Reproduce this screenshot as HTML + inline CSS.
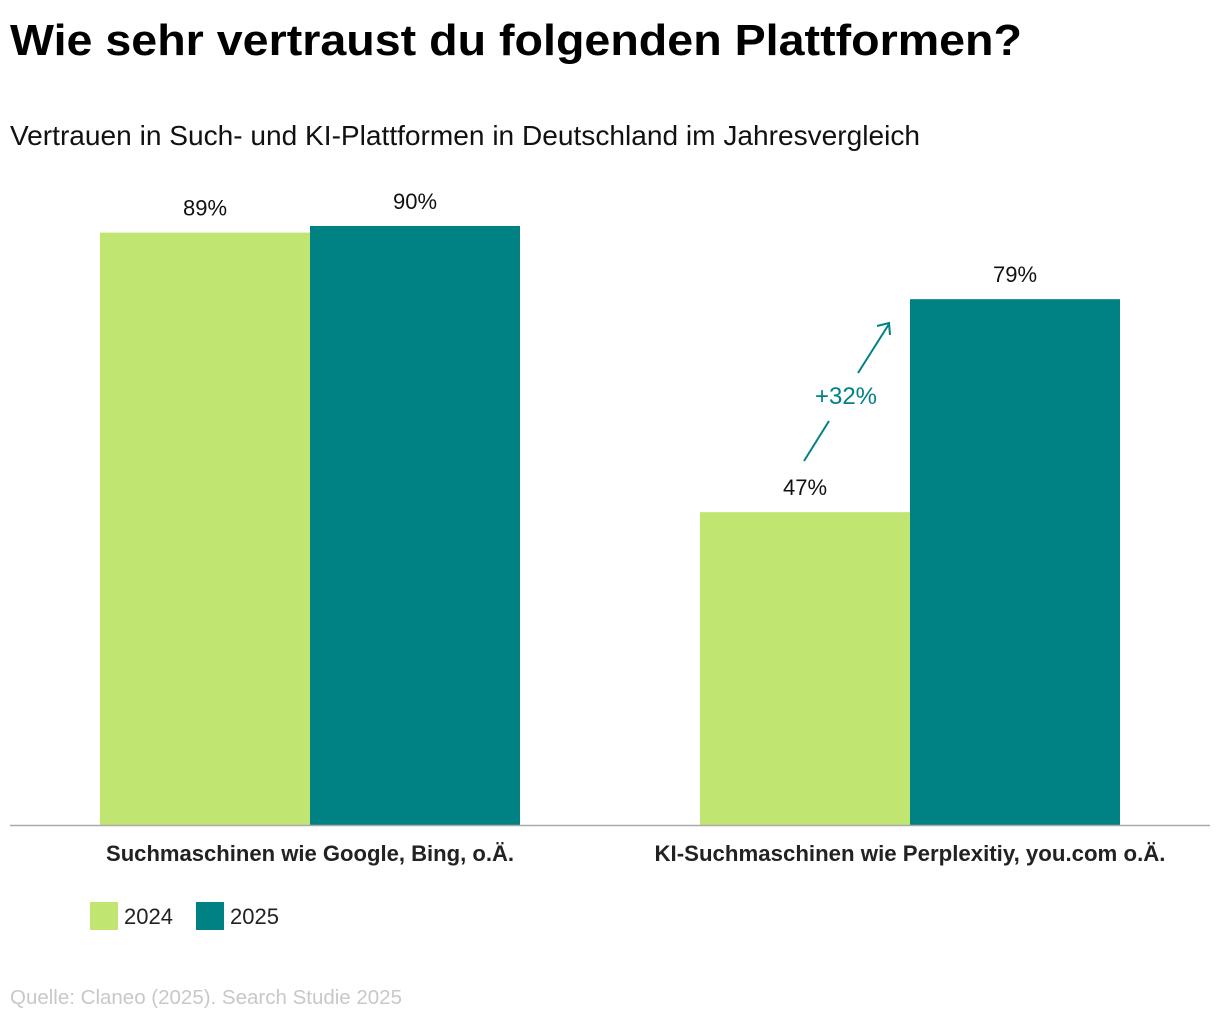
<!DOCTYPE html>
<html><head><meta charset="utf-8"><style>
body{margin:0;background:#fff}
svg{display:block;font-family:"Liberation Sans",sans-serif}
</style></head><body>
<svg id="chart" width="1220" height="1020">
<text x="10" y="55" font-size="44" font-weight="bold" textLength="1012" lengthAdjust="spacingAndGlyphs">Wie sehr vertraust du folgenden Plattformen?</text>
<text x="10" y="145" font-size="28" fill="#111" textLength="910" lengthAdjust="spacingAndGlyphs">Vertrauen in Such- und KI-Plattformen in Deutschland im Jahresvergleich</text>
<g id="bars"></g>
<line x1="10" y1="825.5" x2="1210" y2="825.5" stroke="#aaa" stroke-width="1.5"/>
<g>
<line x1="804" y1="461" x2="829" y2="421" stroke="#008285" stroke-width="2"/>
<line x1="858" y1="373" x2="889" y2="324" stroke="#008285" stroke-width="2"/>
<polyline points="877,326 889,323 890,335" fill="none" stroke="#008285" stroke-width="2"/>
<text x="846" y="404" font-size="24" fill="#008285" text-anchor="middle">+32%</text>
</g>
<g>
<rect x="90" y="902" width="28" height="28" fill="#c0e570"/>
<text x="124" y="924" font-size="22" fill="#222">2024</text>
<rect x="196" y="902" width="28" height="28" fill="#008285"/>
<text x="230" y="924" font-size="22" fill="#222">2025</text>
</g>
<text x="10" y="1004" font-size="20" fill="#c8c8c8" textLength="392" lengthAdjust="spacingAndGlyphs">Quelle: Claneo (2025). Search Studie 2025</text>
</svg>
<script>
const categories = ["Suchmaschinen wie Google, Bing, o.Ä.", "KI-Suchmaschinen wie Perplexitiy, you.com o.Ä."];
const series2024 = [89, 47];
const series2025 = [90, 79];
const valueLabels2024 = ["89%", "47%"];
const valueLabels2025 = ["90%", "79%"];
const catWidths = [408, 511];

const baseY = 825, scale = 6.656;
function y(v){ return baseY - v*scale; }
function groupCenter(i){ return 310 + i*600; }
const bw = 210;
const ns = "http://www.w3.org/2000/svg";
const g = document.getElementById('bars');
function mk(tag, attrs){ const e=document.createElementNS(ns,tag); for(const k in attrs) e.setAttribute(k,attrs[k]); g.appendChild(e); return e; }
categories.forEach((c,i)=>{
  const cx = groupCenter(i);
  [[series2024,valueLabels2024,"#c0e570",-bw,"2024"],[series2025,valueLabels2025,"#008285",0,"2025"]].forEach(([s,l,col,off,yr])=>{
    const v = s[i];
    const r = mk('rect',{x:cx+off,y:y(v),width:bw,height:baseY-y(v),fill:col});
    
    
    const t = mk('text',{x:cx+off+bw/2,y:y(v)-17,'font-size':22,'text-anchor':'middle',fill:'#111'});
    t.textContent = l[i];
    
    
  });
  const ct = mk('text',{x:cx,y:861,'font-size':22,'font-weight':'bold','text-anchor':'middle',fill:'#222',textLength:catWidths[i],lengthAdjust:'spacingAndGlyphs'});
  ct.textContent = c;
  
  
});
</script>
</body></html>
